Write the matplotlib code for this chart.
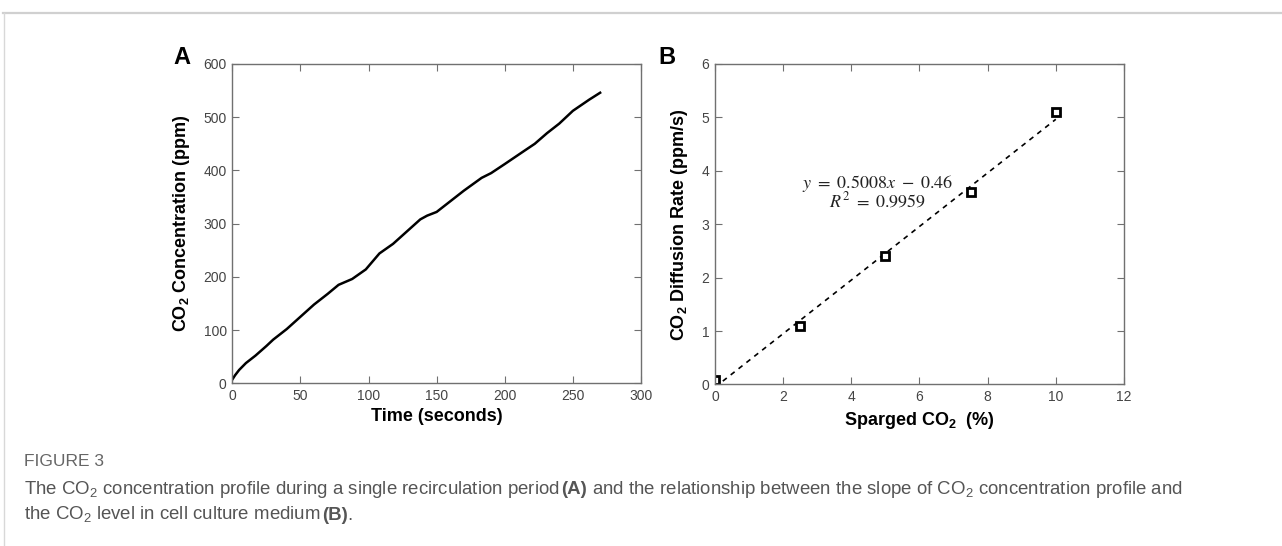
import numpy as np
import matplotlib
matplotlib.use('Agg')
import matplotlib.pyplot as plt
from matplotlib import font_manager
from matplotlib.offsetbox import TextArea, HPacker, AnchoredOffsetbox
from matplotlib.lines import Line2D

# panel A: CO2 concentration over one recirculation period
time_s = [0, 2, 5, 10, 17, 25, 30, 40, 50, 60, 70, 78, 88, 98, 108, 118, 128,
          138, 143, 150, 160, 170, 183, 190, 200, 215, 222, 231, 240, 250, 262, 270]
conc_ppm = [7, 15, 25, 38, 52, 70, 82, 102, 125, 148, 168, 185, 196, 214, 244, 262, 285,
            308, 315, 322, 342, 362, 386, 395, 412, 438, 450, 470, 488, 512, 533, 546]

# panel B: diffusion rate vs sparged CO2
sparged_pct = [0, 2.5, 5, 7.5, 10]
diff_rate = [0.08, 1.1, 2.4, 3.6, 5.1]

names = set(f.name for f in font_manager.fontManager.ttflist)
cap_font = 'Liberation Sans Narrow' if 'Liberation Sans Narrow' in names else 'Liberation Sans'

plt.rcParams['font.family'] = ['Liberation Sans', 'DejaVu Sans']
plt.rcParams['mathtext.fontset'] = 'custom'
plt.rcParams['mathtext.rm'] = cap_font
plt.rcParams['mathtext.bf'] = 'Liberation Sans:bold'

axcol = '#707070'
tkcol = '#444444'

fig = plt.figure(figsize=(12.82, 5.46), dpi=100)

# page frame lines
fig.add_artist(Line2D([3/1282, 1], [1-13/546, 1-13/546], color='#d0d0d0', lw=1.6))
fig.add_artist(Line2D([4/1282, 4/1282], [0, 1-13/546], color='#d8d8d8', lw=1.0))


def style(ax):
    for s in ax.spines.values():
        s.set_color(axcol)
        s.set_linewidth(1.0)
    ax.tick_params(direction='in', top=True, right=True, length=5, width=0.8,
                   color=axcol, labelcolor=tkcol, labelsize=10, pad=4)


axA = fig.add_axes([0.1812, 0.298, 0.3188, 0.5848])
axA.plot(time_s, conc_ppm, color='black', lw=1.8)
axA.set_xlim(0, 300)
axA.set_ylim(0, 600)
axA.set_xticks(np.arange(0, 301, 50))
axA.set_yticks(np.arange(0, 601, 100))
style(axA)
axA.set_xlabel('Time (seconds)', fontsize=13, fontweight='bold', labelpad=4)
axA.set_ylabel(r'CO$_\mathbf{2}$ Concentration (ppm)', fontsize=13, fontweight='bold', labelpad=8)

axB = fig.add_axes([0.5577, 0.2958, 0.319, 0.587])
fit = np.polyfit(sparged_pct, diff_rate, 1)
xf = np.array([0, 10])
axB.plot(xf, np.polyval(fit, xf), color='black', lw=1.2, dashes=(3, 3))
axB.plot(sparged_pct, diff_rate, 's', ms=5.5, mfc='white', mec='black', mew=2)
axB.set_xlim(0, 12)
axB.set_ylim(0, 6)
axB.set_xticks(np.arange(0, 13, 2))
axB.set_yticks(np.arange(0, 7, 1))
style(axB)
axB.set_xlabel(r'Sparged CO$_\mathbf{2}$  (%)', fontsize=13, fontweight='bold', labelpad=4)
axB.set_ylabel(r'CO$_\mathbf{2}$ Diffusion Rate (ppm/s)', fontsize=13, fontweight='bold', labelpad=8)
axB.text(4.78, 3.77, r'$y\ =\ 0.5008x\ -\ 0.46$', fontsize=13, ha='center', va='center',
         math_fontfamily='stix', color='#222222')
axB.text(4.78, 3.43, r'$R^2\ =\ 0.9959$', fontsize=13, ha='center', va='center',
         math_fontfamily='stix', color='#222222')

fig.text(182/1282, 1-58/546, 'A', fontsize=17, fontweight='bold', ha='center', va='center')
fig.text(667/1282, 1-58/546, 'B', fontsize=17, fontweight='bold', ha='center', va='center')

# caption
capc = '#555555'
fig.text(24/1282, 1-462/546, 'FIGURE 3', fontsize=12.5, color='#666666', family=cap_font,
         ha='left', va='center')


def cap_line(parts, y):
    boxes = []
    for txt, bold in parts:
        boxes.append(TextArea(txt, textprops=dict(fontsize=13.4, color=capc, family=cap_font,
                                                  fontweight='bold' if bold else 'normal')))
    pack = HPacker(children=boxes, pad=0, sep=0, align='baseline')
    ab = AnchoredOffsetbox(loc='center left', child=pack, pad=0, frameon=False,
                           bbox_to_anchor=(24/1282, 1-y/546), bbox_transform=fig.transFigure,
                           borderpad=0)
    fig.add_artist(ab)


cap_line([('The CO$_\\mathrm{2}$ concentration profile during a single recirculation period\u00a0', False),
          ('(A)', True),
          (' and the relationship between the slope of CO$_\\mathrm{2}$ concentration profile and', False)], 490)
cap_line([('the CO$_\\mathrm{2}$ level in cell culture medium\u00a0', False), ('(B)', True), ('.', False)], 515)

fig.savefig('out.png', dpi=100)
